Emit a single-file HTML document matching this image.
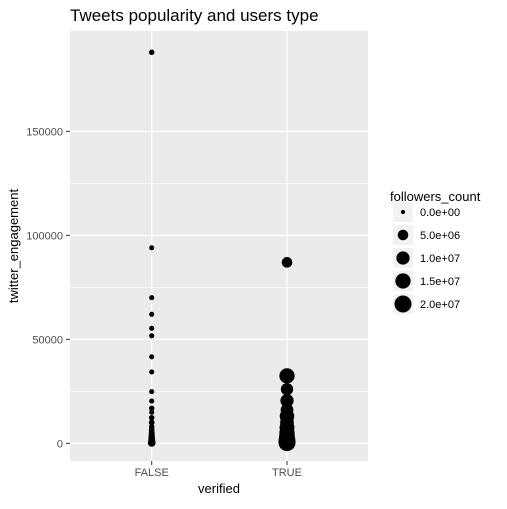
<!DOCTYPE html>
<html><head><meta charset="utf-8"><style>
body{margin:0;background:#fff}
svg text{font-family:"Liberation Sans",Arial,sans-serif}
</style></head><body>
<svg id="chart" width="507" height="504" xmlns="http://www.w3.org/2000/svg">
<text x="70" y="21" font-size="17" fill="#000">Tweets popularity and users type</text>
<rect x="70" y="31" width="298" height="430" fill="#ebebeb"/>
<g id="grid"></g><g id="ticks"></g><g id="points"></g>
<text x="219" y="493" font-size="13" text-anchor="middle">verified</text>
<text transform="translate(18,246) rotate(-90)" font-size="13" text-anchor="middle">twitter_engagement</text>
<g id="legend">
<text x="390" y="201" font-size="13">followers_count</text>
</g>
</svg>
<script>
const categories=["FALSE","TRUE"];
const yTicks=[0,50000,100000,150000];
const falseValues=[188000,94000,70000,62000,55300,51700,41600,34300,24800,20300,16800,14900,12300,10000,8000,6500,5000,3800,2800,2000,1200,600,200];
const falseFollowers=[2e5,1e5,1e5,1e5,1e5,1e5,1e5,1e5,1e5,1e5,2e5,1e5,2e5,3e5,2e5,3e5,4e5,5e5,6e5,8e5,1e6,1.2e6,1.5e6];
const trueValues=[87000,32400,26000,20500,16000,13000,10000,7500,5000,3500,2000,1000,300];
const trueFollowers=[5e6,1.5e7,8e6,1e7,9e6,1.3e7,1.1e7,1.4e7,1.5e7,1.6e7,1.8e7,2e7,2e7];
const legendValues=[0,5e6,1e7,1.5e7,2e7];
const legendLabels=["0.0e+00","5.0e+06","1.0e+07","1.5e+07","2.0e+07"];
const NS="http://www.w3.org/2000/svg";
const xs=c=>151.7+categories.indexOf(c)*135.3;
const ys=v=>443.3-v*0.00208;
const rs=f=>2.1+6.4*Math.sqrt(f/2e7);
function mk(tag,attrs,parent){const e=document.createElementNS(NS,tag);for(const k in attrs)e.setAttribute(k,attrs[k]);parent.appendChild(e);return e;}
const grid=document.getElementById('grid'),ticks=document.getElementById('ticks'),pts=document.getElementById('points'),leg=document.getElementById('legend');
for(let i=0;i<yTicks.length;i++){
 const y=ys(yTicks[i]);
 if(i<yTicks.length-1){const m=ys(yTicks[i]+25000);const g=mk('line',{x1:70,x2:368,y1:m,y2:m,stroke:'#fff','stroke-width':0.6},grid);
 
 }
 const l=mk('line',{x1:70,x2:368,y1:y,y2:y,stroke:'#fff','stroke-width':1.2},grid);
 
 
 mk('line',{x1:66,x2:70,y1:y,y2:y,stroke:'#333','stroke-width':1},ticks);
 const t=mk('text',{x:63,y:y+4,'font-size':11,fill:'#4d4d4d','text-anchor':'end'},ticks);t.textContent=yTicks[i];
 
 
}
for(const c of categories){
 const x=xs(c);
 const l=mk('line',{x1:x,x2:x,y1:31,y2:461,stroke:'#fff','stroke-width':1.2},grid);
 
 
 mk('line',{x1:x,x2:x,y1:461,y2:465,stroke:'#333','stroke-width':1},ticks);
 const t=mk('text',{x:x,y:476,'font-size':11,fill:'#4d4d4d','text-anchor':'middle'},ticks);t.textContent=c;
 
 
}
function drawSeries(cat,vals,fol){
 vals.forEach((v,i)=>{const p=mk('circle',{cx:xs(cat),cy:ys(v),r:rs(fol[i]),fill:'#000'},pts);
 
 });
}
drawSeries("FALSE",falseValues,falseFollowers);
drawSeries("TRUE",trueValues,trueFollowers);
legendValues.forEach((f,i)=>{
 const cy=212+i*23;
 mk('rect',{x:393,y:cy-10,width:20,height:20,fill:'#f2f2f2'},leg);
 const c=mk('circle',{cx:403,cy:cy,r:rs(f),fill:'#000'},leg);
 
 
 const t=mk('text',{x:420,y:cy+4,'font-size':11,fill:'#000'},leg);t.textContent=legendLabels[i];
 
 
});
</script>
</body></html>
